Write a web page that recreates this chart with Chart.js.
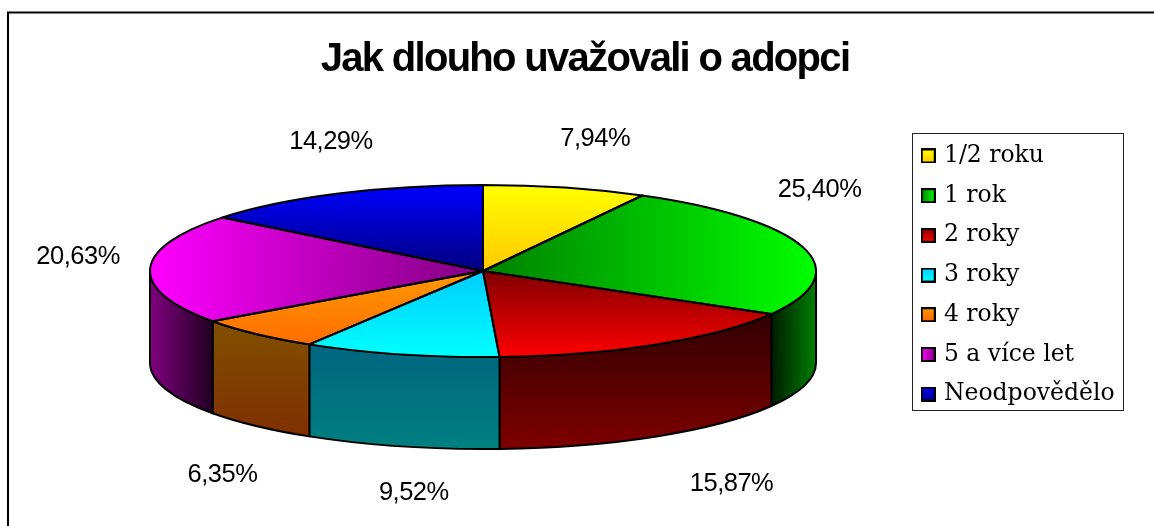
<!DOCTYPE html>
<html lang="cs">
<head>
<meta charset="utf-8">
<title>Jak dlouho uvažovali o adopci</title>
<script src="https://cdn.jsdelivr.net/npm/chart.js@4"></script>
<style>
html,body{margin:0;padding:0;background:#fff;overflow:hidden}
#wrap{width:1154px;height:526px;position:relative}
canvas{display:block}
</style>
</head>
<body>
<div id="wrap"><canvas id="c" width="1154" height="526"></canvas></div>
<script>
const titleText = 'Jak dlouho uvažovali o adopci';
const categories = ['1/2 roku', '1 rok', '2 roky', '3 roky', '4 roky', '5 a více let', 'Neodpovědělo'];
const shares = [7.94, 25.40, 15.87, 9.52, 6.35, 20.63, 14.29];

/* Styling and geometry, separate from the data */
const CX = 483, CY = 271, RX = 333, RY = 86, DEPTH = 92;
const squash = RY / RX;
const topColors = [
  ['v', '#ffff00', '#ffc800'],
  ['hr', '#008000', '#00ff00'],
  ['vb', '#800000', '#ff0000'],
  ['vb', '#00ccff', '#00ffff'],
  ['vb', '#ff9900', '#ff6600'],
  ['hl', '#ff00ff', '#800080'],
  ['v', '#0000ff', '#000080']
];
const wallColors = [
  null,
  ['h', 771, 816, '#001a00', '#008000'],
  ['y', 315, 450, '#300000', '#800000'],
  ['y', 345, 450, '#006680', '#008080'],
  ['y', 320, 436, '#805000', '#803000'],
  ['h', 150, 213, '#800080', '#200020'],
  null
];
const labelOffsets = [[30,-49],[16,-58],[75,140],[13,139],[-34,141],[-72,-12],[-7.5,-52]];

function topGradient(ctx, i) {
  const [kind, c0, c1] = topColors[i];
  const py = y => CY + (y - CY) / squash;   /* gradient lives in the unsquashed space */
  let g;
  if (kind === 'v')  g = ctx.createLinearGradient(0, py(CY - RY), 0, py(CY));
  if (kind === 'vb') g = ctx.createLinearGradient(0, py(CY), 0, py(CY + RY));
  if (kind === 'hr') g = ctx.createLinearGradient(CX, 0, CX + RX, 0);
  if (kind === 'hl') g = ctx.createLinearGradient(CX - RX, 0, CX, 0);
  g.addColorStop(0, c0); g.addColorStop(1, c1);
  return g;
}
function swatch(i) {
  const S = 15, cv = document.createElement('canvas');
  cv.width = S; cv.height = S;
  const x = cv.getContext('2d'), [kind, c0, c1] = topColors[i];
  const g = kind[0] === 'h' ? x.createLinearGradient(0, 0, S, 0) : x.createLinearGradient(0, 0, 0, S);
  g.addColorStop(0, c0); g.addColorStop(1, c1);
  x.fillStyle = g; x.fillRect(0, 0, S, S);
  x.strokeStyle = '#000'; x.lineWidth = 2; x.strokeRect(1, 1, S - 2, S - 2);
  return cv;
}
function fmt(v) { return v.toFixed(2).replace('.', ',') + '%'; }

const pie3d = {
  id: 'pie3d',
  afterInit(chart) {
    const t = chart.titleBlock, draw = t.draw;
    t.draw = function () {
      chart.ctx.letterSpacing = '-1.7px';
      draw.call(this);
      chart.ctx.letterSpacing = '0px';
    };
  },
  afterLayout(chart) {
    /* a square chart area whose circle is squashed into the top ellipse at draw time */
    const a = chart.chartArea;
    a.left = CX - RX; a.right = CX + RX; a.top = CY - RX; a.bottom = CY + RX;
    a.width = 2 * RX; a.height = 2 * RX;
    const t = chart.titleBlock;
    t.left = 185; t.right = 985; t.top = 36; t.bottom = 84; t.width = 800; t.height = 48;
    const l = chart.legend;
    l.left = 908; l.right = 1124; l.top = 128; l.bottom = 520; l.width = 216; l.height = 392;
  },
  beforeDraw(chart) {
    const c = chart.ctx;
    c.save();
    c.fillStyle = '#fff'; c.fillRect(0, 0, 1154, 526);
    c.strokeStyle = '#000'; c.lineWidth = 2;
    c.beginPath();
    c.moveTo(8, 526); c.lineTo(8, 12.5); c.lineTo(1154, 12.5);
    c.stroke();
    c.lineWidth = 1; c.strokeStyle = '#222';
    c.strokeRect(912.5, 133.5, 211, 277);
    c.restore();
  },
  beforeDatasetsDraw(chart) {
    const c = chart.ctx, arcs = chart.getDatasetMeta(0).data;
    c.save();
    c.lineWidth = 2; c.strokeStyle = '#000'; c.lineJoin = 'round';
    arcs.forEach((arc, i) => {
      if (!wallColors[i]) return;
      /* chart angles run from -PI/2 at twelve o'clock; front half is 0..PI */
      const s = Math.max(arc.startAngle, 0), e = Math.min(arc.endAngle, Math.PI);
      if (e <= s) return;
      const w = wallColors[i];
      const g = w[0] === 'h' ? c.createLinearGradient(w[1], 0, w[2], 0) : c.createLinearGradient(0, w[1], 0, w[2]);
      g.addColorStop(0, w[3]); g.addColorStop(1, w[4]);
      c.beginPath();
      c.ellipse(CX, CY, RX, RY, 0, s, e);
      c.ellipse(CX, CY + DEPTH, RX, RY, 0, e, s, true);
      c.closePath();
      c.fillStyle = g; c.fill(); c.stroke();
    });
    c.restore();
    c.save();
    c.translate(0, CY); c.scale(1, squash); c.translate(0, -CY);
  },
  afterDatasetsDraw(chart) {
    const c = chart.ctx, arcs = chart.getDatasetMeta(0).data;
    c.restore();
    c.save();
    c.lineWidth = 2; c.strokeStyle = '#000'; c.lineJoin = 'round';
    arcs.forEach(arc => {
      c.beginPath();
      c.moveTo(CX, CY);
      c.ellipse(CX, CY, RX, RY, 0, arc.startAngle, arc.endAngle);
      c.closePath();
      c.stroke();
    });
    c.fillStyle = '#000';
    c.font = '25.5px "Liberation Sans"';
    c.letterSpacing = '-0.5px';
    c.textAlign = 'center'; c.textBaseline = 'middle';
    arcs.forEach((arc, i) => {
      const m = (arc.startAngle + arc.endAngle) / 2;
      const x = CX + RX * Math.cos(m) + labelOffsets[i][0];
      const y = CY + RY * Math.sin(m) + labelOffsets[i][1];
      c.fillText(fmt(shares[i]), x, y);
    });
    c.restore();
  }
};

new Chart(document.getElementById('c'), {
  type: 'pie',
  data: {
    labels: categories,
    datasets: [{
      data: shares,
      clip: false,
      borderWidth: 0,
      backgroundColor: ctx => topGradient(ctx.chart.ctx, ctx.dataIndex)
    }]
  },
  options: {
    responsive: false,
    animation: false,
    devicePixelRatio: 1,
    events: [],
    plugins: {
      tooltip: { enabled: false },
      title: {
        display: true,
        text: titleText,
        color: '#000',
        padding: 0,
        font: { family: '"Liberation Sans"', size: 40, weight: 'bold' }
      },
      legend: {
        display: true,
        position: 'right',
        align: 'start',
        labels: {
          color: '#000',
          font: { family: '"DejaVu Serif"', size: 23.5 },
          padding: 16.2,
          boxWidth: 8,
          usePointStyle: true,
          generateLabels: chart => categories.map((text, i) => ({
            text, index: i, hidden: false, pointStyle: swatch(i),
            fontColor: '#000', lineWidth: 0
          }))
        }
      }
    }
  },
  plugins: [pie3d]
});
</script>
</body>
</html>
